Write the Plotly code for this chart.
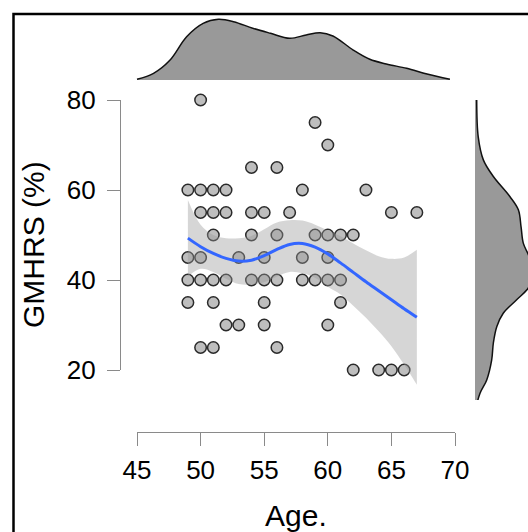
import plotly.graph_objects as go

W, H = 528, 532

# ---- data ----
age = [50, 59, 60, 54, 56,
       49, 50, 51, 52, 58, 63,
       50, 51, 52, 54, 55, 57, 65, 67,
       51, 54, 56, 59, 60, 61, 62,
       49, 50, 53, 55, 58, 60,
       49, 50, 51, 52, 54, 55, 56, 58, 59, 60, 61,
       49, 51, 55, 61,
       52, 53, 55, 60,
       50, 51, 56,
       62, 64, 65, 66]
gmhrs = [80, 75, 70, 65, 65,
         60, 60, 60, 60, 60, 60,
         55, 55, 55, 55, 55, 55, 55, 55,
         50, 50, 50, 50, 50, 50, 50,
         45, 45, 45, 45, 45, 45,
         40, 40, 40, 40, 40, 40, 40, 40, 40, 40, 40,
         35, 35, 35, 35,
         30, 30, 30, 30,
         25, 25, 25,
         20, 20, 20, 20]

# loess fit with confidence band
fit_x = [49, 50, 51, 52, 53, 54, 55, 56, 57, 58, 59, 60, 61, 62, 63, 64, 65, 66, 67]
fit_y = [49.3, 47.4, 45.9, 44.8, 44.2, 44.4, 45.4, 46.8, 47.9, 48.1, 47.3, 45.8, 43.8, 41.7, 39.6, 37.6, 35.6, 33.6, 31.7]
fit_hi = [57.8, 52.3, 50.0, 49.3, 49.3, 49.8, 51.3, 52.8, 53.3, 53.2, 52.3, 51.0, 49.7, 48.1, 46.6, 45.3, 44.7, 45.0, 46.7]
fit_lo = [40.8, 42.5, 41.8, 40.3, 39.1, 39.0, 39.5, 40.8, 41.8, 41.5, 40.5, 38.5, 36.8, 34.3, 31.6, 28.6, 25.3, 21.2, 16.7]

# marginal density of age (top)
dens_age_x = [45.0, 46.3, 47.6, 48.9, 50.2, 51.4, 52.6, 54.1, 55.5, 57.0, 58.3, 59.4, 60.4, 62.0, 63.3, 64.6, 66.2, 67.8, 69.6]
dens_age_y = [0.001, 0.009, 0.027, 0.0585, 0.0766, 0.082, 0.0788, 0.0699, 0.0631, 0.0564, 0.0608, 0.0639, 0.0595, 0.0405, 0.028, 0.0216, 0.0158, 0.0081, 0.001]

# marginal density of GMHRS (right)
dens_g_y = [80, 71.8, 66.7, 63, 58.5, 55.6, 51.8, 48.2, 45.2, 42, 38.5, 35.6, 32.6, 29.6, 26, 22.2, 17.8, 14.8, 11.1]
dens_g_x = [0.001, 0.0019, 0.0049, 0.0108, 0.0206, 0.0255, 0.0271, 0.0284, 0.0318, 0.0335, 0.0318, 0.0245, 0.0166, 0.0128, 0.0108, 0.0098, 0.0069, 0.0029, 0.0003]

x_ticks = [45, 50, 55, 60, 65, 70]
y_ticks = [20, 40, 60, 80]

# ---- layout geometry (pixels) ----
X45, X70 = 137, 455
Y80, Y20 = 100, 370
XPX = (X70 - X45) / 25.0
YPX = (Y20 - Y80) / 60.0

def fx(p):
    return p / W

def fy(p):
    return 1 - p / H

dx0, dx1 = 125, 465
dy0, dy1 = 82, 400
xr = [45 + (dx0 - X45) / XPX, 45 + (dx1 - X45) / XPX]
yr = [20 - (dy1 - Y20) / YPX, 80 + (Y80 - dy0) / YPX]

AX = "#8a8a8a"
FONT = "Liberation Sans, Arial, sans-serif"
TICK_SIZE = 26
TITLE_SIZE = 30

fig = go.Figure()

fig.add_trace(go.Scatter(
    x=age, y=gmhrs, mode="markers", cliponaxis=False,
    marker=dict(size=11.5, color="#bebebe", line=dict(color="#2a2a2a", width=1.5)),
    showlegend=False, hoverinfo="skip"))

fig.add_trace(go.Scatter(x=fit_x, y=fit_hi, mode="lines",
                         line=dict(width=0, shape="spline"),
                         showlegend=False, hoverinfo="skip"))
fig.add_trace(go.Scatter(x=fit_x, y=fit_lo, mode="lines",
                         line=dict(width=0, shape="spline"),
                         fill="tonexty", fillcolor="rgba(153,153,153,0.4)",
                         showlegend=False, hoverinfo="skip"))
fig.add_trace(go.Scatter(x=fit_x, y=fit_y, mode="lines",
                         line=dict(color="#3366FF", width=3, shape="spline"),
                         showlegend=False, hoverinfo="skip"))

# display axes (range-frame style)
fig.add_trace(go.Scatter(x=[], y=[], xaxis="x2", yaxis="y2", showlegend=False))

# top density
fig.add_trace(go.Scatter(x=dens_age_x, y=dens_age_y, xaxis="x3", yaxis="y3",
                         mode="lines", fill="tozeroy", fillcolor="#999999",
                         line=dict(color="#111111", width=1.5, shape="spline"),
                         showlegend=False, hoverinfo="skip"))
# right density
fig.add_trace(go.Scatter(x=dens_g_x, y=dens_g_y, xaxis="x4", yaxis="y4",
                         mode="lines", fill="tozerox", fillcolor="#999999",
                         line=dict(color="#111111", width=1.5, shape="spline"),
                         showlegend=False, hoverinfo="skip"))

hidden = dict(visible=False, showgrid=False, zeroline=False)

fig.update_layout(
    width=W, height=H, autosize=False,
    margin=dict(l=0, r=0, t=0, b=0, pad=0, autoexpand=False),
    showlegend=False,
    paper_bgcolor="white", plot_bgcolor="rgba(0,0,0,0)",
    font=dict(family=FONT, size=TICK_SIZE, color="#000000"),
    xaxis=dict(domain=[fx(dx0), fx(dx1)], range=xr, **hidden),
    yaxis=dict(domain=[fy(dy1), fy(dy0)], range=yr, **hidden),
    xaxis2=dict(domain=[fx(X45), fx(X70)], range=[45, 70], anchor="free",
                position=fy(432), showline=True, linecolor=AX, linewidth=1.3,
                ticks="outside", ticklen=13, tickwidth=1.3, tickcolor=AX,
                tickvals=x_ticks, ticktext=[str(v) for v in x_ticks],
                showgrid=False, zeroline=False, ticklabelstandoff=2,
                automargin=False,
                tickfont=dict(size=TICK_SIZE, family=FONT, color="#000")),
    yaxis2=dict(domain=[fy(Y20), fy(Y80)], range=[20, 80], anchor="free",
                position=fx(120), showline=True, linecolor=AX, linewidth=1.3,
                ticks="outside", ticklen=13, tickwidth=1.3, tickcolor=AX,
                tickvals=y_ticks, ticktext=[str(v) for v in y_ticks],
                showgrid=False, zeroline=False, ticklabelstandoff=6,
                automargin=False,
                tickfont=dict(size=TICK_SIZE, family=FONT, color="#000")),
    xaxis3=dict(domain=[fx(dx0), fx(dx1)], range=xr, anchor="y3", **hidden),
    yaxis3=dict(domain=[fy(80), fy(14)], range=[0, 66 / 740.0], anchor="x3", **hidden),
    xaxis4=dict(domain=[fx(475), 1.0], range=[0, 53 / 1700.0], anchor="y4", **hidden),
    yaxis4=dict(domain=[fy(dy1), fy(dy0)], range=yr, anchor="x4", **hidden),
    shapes=[dict(type="rect", xref="paper", yref="paper",
                 x0=fx(13.5), x1=1.1, y0=-0.1, y1=fy(14),
                 line=dict(color="black", width=2.5), fillcolor="rgba(0,0,0,0)",
                 layer="above")],
    annotations=[
        dict(text="GMHRS (%)", xref="paper", yref="paper", x=fx(33), y=fy(245),
             textangle=-90, showarrow=False, font=dict(size=TITLE_SIZE, family=FONT),
             xanchor="center", yanchor="middle"),
        dict(text="Age.", xref="paper", yref="paper", x=fx(296), y=fy(515),
             showarrow=False, font=dict(size=TITLE_SIZE, family=FONT),
             xanchor="center", yanchor="middle"),
    ],
)

fig.write_html("out.html")
